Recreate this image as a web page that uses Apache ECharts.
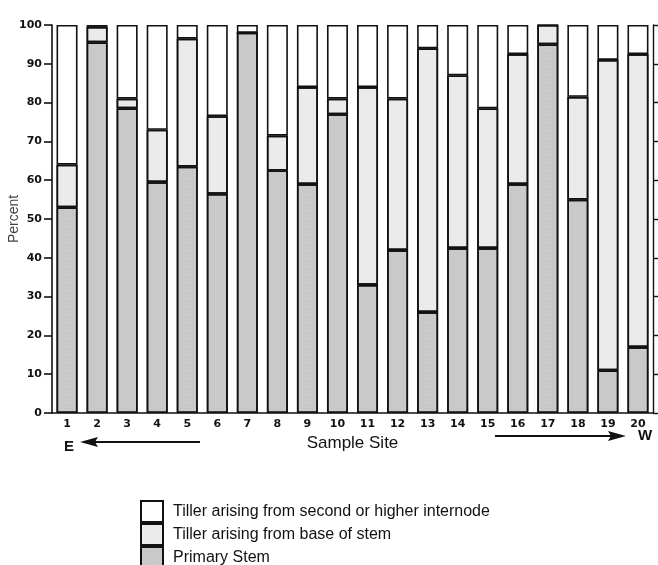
<!DOCTYPE html>
<html>
<head>
<meta charset="utf-8">
<script src="https://cdn.jsdelivr.net/npm/echarts@6/dist/echarts.min.js"></script>
<style>
  html, body { margin: 0; padding: 0; background: #ffffff; }
  #chart { width: 658px; height: 565px; }
</style>
</head>
<body>
<div id="chart"></div>
<script>
// Sample sites, east (1) to west (20)
const sites = ['1','2','3','4','5','6','7','8','9','10','11','12','13','14','15','16','17','18','19','20'];

// Percent of shoots in each class at every site (stacked to 100)
const primaryStem = [53, 95.5, 78.5, 59.5, 63.5, 56.5, 98, 62.5, 59, 77, 33, 42, 26, 42.5, 42.5, 59, 95, 55, 11, 17];
const baseTiller  = [11, 4, 2.5, 13.5, 33, 20, 0, 9, 25, 4, 51, 39, 68, 44.5, 36, 33.5, 5, 26.5, 80, 75.5];
const upperTiller = [36, 0.5, 19, 27, 3.5, 23.5, 2, 28.5, 16, 19, 16, 19, 6, 13, 21.5, 7.5, 0, 18.5, 9, 7.5];

const seriesNames = {
  upper: 'Tiller arising from second or higher internode',
  base: 'Tiller arising from base of stem',
  primary: 'Primary Stem'
};

const ink = '#111111';
const textFont = '"Liberation Sans", Arial, sans-serif';
const tickFont = '"DejaVu Sans", sans-serif';

// Fine dot screen used for the shaded fills
function stipple(dotColor) {
  return {
    symbol: 'rect',
    symbolSize: 0.5,
    color: dotColor,
    dashArrayX: [[1, 2], [0, 1, 1, 1]],
    dashArrayY: [1, 1],
    rotation: 0
  };
}

function barSeries(name, data, fill, decal) {
  const style = { color: fill, borderColor: ink, borderWidth: 1.6 };
  if (decal) style.decal = decal;
  return {
    name: name,
    type: 'bar',
    stack: 'total',
    barWidth: 21,
    data: data,
    itemStyle: style,
    emphasis: { disabled: true }
  };
}

const chart = echarts.init(document.getElementById('chart'), null, { renderer: 'canvas' });

chart.setOption({
  animation: false,
  backgroundColor: '#ffffff',
  grid: { left: 52, right: 5, top: 25, bottom: 152, outerBoundsMode: 'none' },
  legend: {
    orient: 'vertical',
    left: 140,
    top: 500,
    height: 90,
    padding: 0,
    itemWidth: 22,
    itemHeight: 21,
    itemGap: 0,
    icon: 'rect',
    selectedMode: false,
    data: [seriesNames.upper, seriesNames.base, seriesNames.primary],
    textStyle: { fontFamily: textFont, fontSize: 16, color: ink, padding: [0, 0, 0, 5] }
  },
  xAxis: {
    type: 'category',
    data: sites,
    name: 'Sample Site',
    nameLocation: 'middle',
    nameGap: 19,
    nameTextStyle: { fontFamily: textFont, fontSize: 17, color: ink },
    axisLine: { show: true, lineStyle: { color: ink, width: 1.6 } },
    axisTick: { show: false },
    axisLabel: { fontFamily: tickFont, fontSize: 11, fontWeight: 'bold', color: ink, margin: 6 }
  },
  yAxis: [
    {
      type: 'value',
      min: 0,
      max: 100,
      interval: 10,
      name: 'Percent',
      nameLocation: 'middle',
      nameGap: 31,
      nameMoveOverlap: false,
      nameTextStyle: { fontFamily: textFont, fontSize: 14, color: '#444444' },
      axisLine: { show: true, lineStyle: { color: ink, width: 1.6 } },
      axisTick: { show: true, length: 8, lineStyle: { color: ink, width: 1.6 } },
      axisLabel: { fontFamily: tickFont, fontSize: 11, fontWeight: 'bold', color: ink, margin: 10 },
      splitLine: { show: false }
    },
    {
      type: 'value',
      position: 'right',
      min: 0,
      max: 100,
      interval: 10,
      axisLine: { show: true, lineStyle: { color: ink, width: 1.4 } },
      axisTick: { show: true, length: 6, lineStyle: { color: ink, width: 1.4 } },
      axisLabel: { show: false },
      splitLine: { show: false }
    }
  ],
  series: [
    barSeries(seriesNames.primary, primaryStem, '#cbcbcb', stipple('rgba(60,60,60,0.35)')),
    barSeries(seriesNames.base, baseTiller, '#ececec', stipple('rgba(90,90,90,0.22)')),
    barSeries(seriesNames.upper, upperTiller, '#ffffff', null)
  ],
  graphic: [
    // East direction marker
    { type: 'text', left: 64, top: 439, style: { text: 'E', fontFamily: textFont, fontSize: 15, fontWeight: 'bold', fill: ink } },
    { type: 'line', shape: { x1: 94, y1: 442, x2: 200, y2: 442 }, style: { stroke: ink, lineWidth: 1.8 } },
    { type: 'polygon', shape: { points: [[80, 442], [98, 437], [95, 442], [98, 447]] }, style: { fill: ink } },
    // West direction marker
    { type: 'line', shape: { x1: 495, y1: 436, x2: 612, y2: 436 }, style: { stroke: ink, lineWidth: 1.8 } },
    { type: 'polygon', shape: { points: [[626, 436], [608, 431], [611, 436], [608, 441]] }, style: { fill: ink } },
    { type: 'text', left: 638, top: 428, style: { text: 'W', fontFamily: textFont, fontSize: 15, fontWeight: 'bold', fill: ink } }
  ]
});
</script>
</body>
</html>
